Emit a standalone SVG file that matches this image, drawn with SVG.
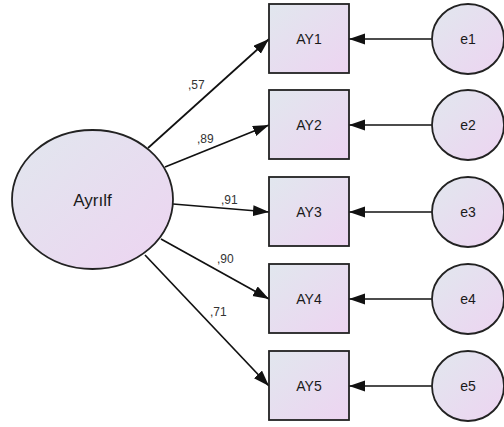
<svg xmlns="http://www.w3.org/2000/svg" width="504" height="427" viewBox="0 0 504 427">
<defs>
<linearGradient id="g" x1="0" y1="0" x2="1" y2="1">
<stop offset="0" stop-color="#e1e7ee"/>
<stop offset="1" stop-color="#edd4f1"/>
</linearGradient>
<marker id="ah" markerUnits="userSpaceOnUse" markerWidth="17" markerHeight="12" refX="16" refY="5.5" orient="auto">
<path d="M0,0 L16,5.5 L0,11 Z" fill="#111"/>
</marker>
</defs>
<style>
.n{fill:url(#g);stroke:#222;stroke-width:1.8}
.t{font-family:"Liberation Sans",Arial,sans-serif;fill:#1a1a1a;text-anchor:middle}
.c{stroke:#111;stroke-width:1.7;fill:none;marker-end:url(#ah)}
.l{font-family:"Liberation Sans",Arial,sans-serif;fill:#333;font-size:12px}
</style>
<rect width="504" height="427" fill="#fff"/>
<g id="connectors">
<line class="c" x1="148" y1="148" x2="269" y2="39"/>
<line class="c" x1="165" y1="167" x2="269" y2="125"/>
<line class="c" x1="173" y1="204" x2="269" y2="212"/>
<line class="c" x1="161" y1="239" x2="269" y2="299"/>
<line class="c" x1="145" y1="255" x2="269" y2="386"/>
<line class="c" x1="432" y1="39" x2="349" y2="39"/>
<line class="c" x1="432" y1="125" x2="349" y2="125"/>
<line class="c" x1="432" y1="212" x2="349" y2="212"/>
<line class="c" x1="432" y1="299" x2="349" y2="299"/>
<line class="c" x1="432" y1="386" x2="349" y2="386"/>
<text class="l" x="188" y="89">,57</text>
<text class="l" x="197" y="143">,89</text>
<text class="l" x="221" y="204">,91</text>
<text class="l" x="217" y="263">,90</text>
<text class="l" x="210" y="316">,71</text>
</g>
<g id="Ayrilf"><ellipse class="n" cx="92.5" cy="199.5" rx="80.5" ry="69.5"/><text class="t" x="92.5" y="206" font-size="17">Ayrılf</text></g>
<g id="AY1"><rect class="n" x="269" y="4" width="80" height="69"/><text class="t" x="309" y="44" font-size="14">AY1</text></g>
<g id="AY2"><rect class="n" x="269" y="90" width="80" height="69"/><text class="t" x="309" y="130" font-size="14">AY2</text></g>
<g id="AY3"><rect class="n" x="269" y="177" width="80" height="69"/><text class="t" x="309" y="217" font-size="14">AY3</text></g>
<g id="AY4"><rect class="n" x="269" y="264" width="80" height="69"/><text class="t" x="309" y="304" font-size="14">AY4</text></g>
<g id="AY5"><rect class="n" x="269" y="351" width="80" height="69"/><text class="t" x="309" y="391" font-size="14">AY5</text></g>
<g id="e1"><ellipse class="n" cx="468" cy="39" rx="36" ry="35"/><text class="t" x="468" y="44" font-size="14">e1</text></g>
<g id="e2"><ellipse class="n" cx="468" cy="125" rx="36" ry="35"/><text class="t" x="468" y="130" font-size="14">e2</text></g>
<g id="e3"><ellipse class="n" cx="468" cy="212" rx="36" ry="35"/><text class="t" x="468" y="217" font-size="14">e3</text></g>
<g id="e4"><ellipse class="n" cx="468" cy="299" rx="36" ry="35"/><text class="t" x="468" y="304" font-size="14">e4</text></g>
<g id="e5"><ellipse class="n" cx="468" cy="386" rx="36" ry="35"/><text class="t" x="468" y="391" font-size="14">e5</text></g>
</svg>
